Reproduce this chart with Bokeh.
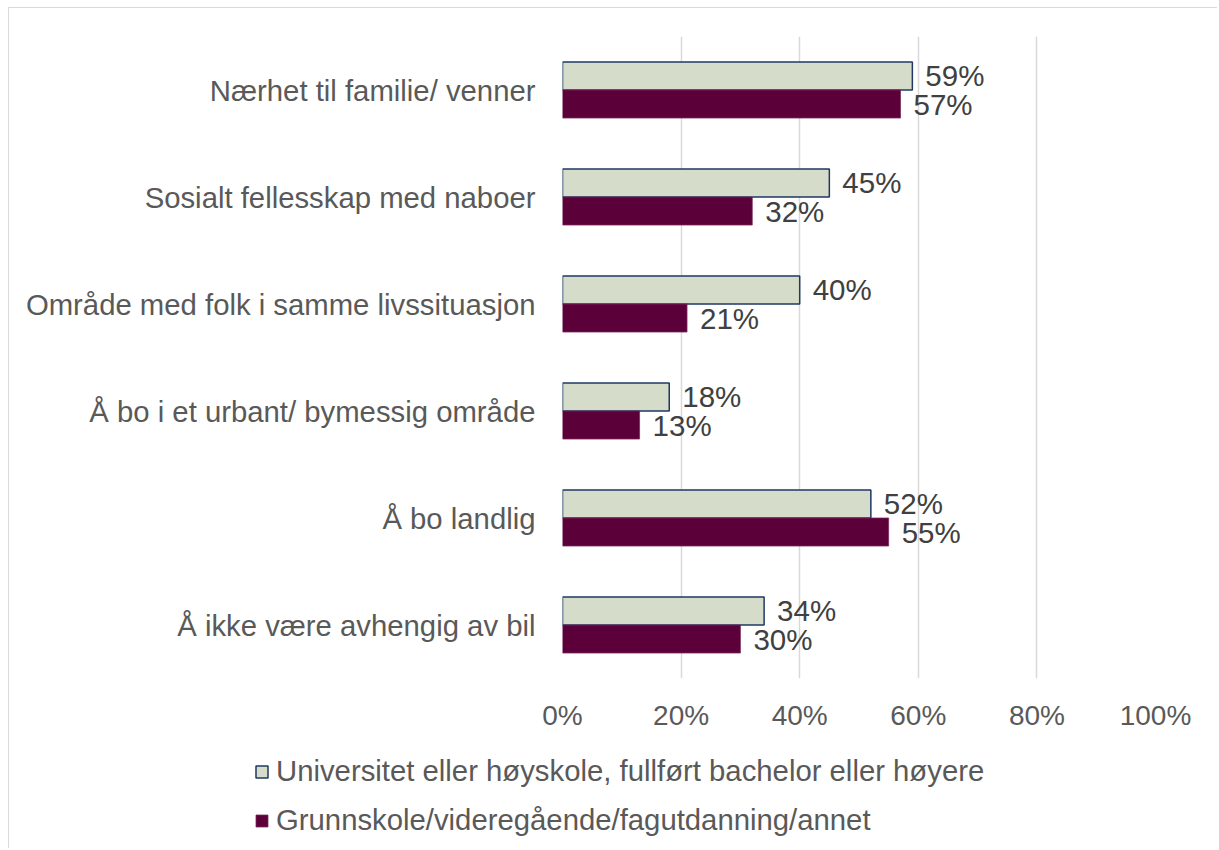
from bokeh.plotting import figure
from bokeh.layouts import column, row
from bokeh.models import (ColumnDataSource, FactorRange, Legend, LegendItem,
                          PrintfTickFormatter, FixedTicker, Range1d)
from bokeh.transform import dodge
from bokeh.core.properties import value
from bokeh.embed import file_html
from bokeh.resources import INLINE

categories = [
    "Nærhet til familie/ venner",
    "Sosialt fellesskap med naboer",
    "Område med folk i samme livssituasjon",
    "Å bo i et urbant/ bymessig område",
    "Å bo landlig",
    "Å ikke være avhengig av bil",
]
series_names = [
    "Universitet eller høyskole, fullført bachelor eller høyere",
    "Grunnskole/videregående/fagutdanning/annet",
]
uni_values = [59, 45, 40, 18, 52, 34]
grunn_values = [57, 32, 21, 13, 55, 30]
x_ticks = [0, 20, 40, 60, 80, 100]

FONT = "Liberation Sans"
TXT = "#595959"
LIGHT_FILL, LIGHT_LINE = "#d5dcc9", "#1f3864"
DARK_FILL, DARK_LINE = "#5c003a", "#7a2a5c"

src = ColumnDataSource(dict(
    cat=categories,
    uni=uni_values,
    grunn=grunn_values,
    uni_lab=[f"{v}%" for v in uni_values],
    grunn_lab=[f"{v}%" for v in grunn_values],
))

p = figure(
    width=1208, height=740,
    y_range=FactorRange(*reversed(categories)),
    x_range=(0, 100),
    output_backend="svg", toolbar_location=None,
)
p.min_border_left = 553
p.min_border_right = 62
p.min_border_top = 28
p.min_border_bottom = 70
p.outline_line_color = None

bh = 0.262
p.hbar(y=dodge("cat", bh / 2, range=p.y_range), right="uni", left=0, height=bh,
       source=src, fill_color=LIGHT_FILL, line_color=LIGHT_LINE, line_width=1.5)
p.hbar(y=dodge("cat", -bh / 2, range=p.y_range), right="grunn", left=0, height=bh,
       source=src, fill_color=DARK_FILL, line_color=DARK_LINE, line_width=0.75)

p.text(x="uni", y=dodge("cat", bh / 2, range=p.y_range), text="uni_lab", source=src,
       x_offset=13, text_baseline="middle", text_align="left",
       text_font=value(FONT), text_font_size="29.5px", text_color="#404040")
p.text(x="grunn", y=dodge("cat", -bh / 2, range=p.y_range), text="grunn_lab", source=src,
       x_offset=13, text_baseline="middle", text_align="left",
       text_font=value(FONT), text_font_size="29.5px", text_color="#404040")

p.xgrid.grid_line_color = "#d9d9d9"
p.xgrid.grid_line_width = 1.5
p.ygrid.grid_line_color = None

p.xaxis.ticker = FixedTicker(ticks=x_ticks)
p.xaxis.formatter = PrintfTickFormatter(format="%d%%")
for ax in (p.xaxis, p.yaxis):
    ax.axis_line_color = None
    ax.major_tick_line_color = None
    ax.minor_tick_line_color = None
    ax.major_label_text_font = FONT
    ax.major_label_text_color = TXT
p.xaxis.major_label_text_font_size = "28px"
p.yaxis.major_label_text_font_size = "29.3px"
p.xaxis.major_label_standoff = 15
p.yaxis.major_label_standoff = 21

# legend panel (separate figure so the legend is not clipped by the bar frame)
lg = figure(width=1208, height=100, x_range=Range1d(0, 1), y_range=Range1d(0, 1),
            x_axis_type=None, y_axis_type=None,
            output_backend="svg", toolbar_location=None)
lg.min_border = 0
lg.outline_line_color = None
lg.xgrid.grid_line_color = None
lg.ygrid.grid_line_color = None
l1 = lg.hbar(y=0, right="uni", left=0, height=0.1, source=src, visible=False,
             fill_color=LIGHT_FILL, line_color=LIGHT_LINE, line_width=1.5)
l2 = lg.hbar(y=0, right="grunn", left=0, height=0.1, source=src, visible=False,
             fill_color=DARK_FILL, line_color=DARK_LINE, line_width=0.75)
legend = Legend(
    items=[LegendItem(label=series_names[0], renderers=[l1]),
           LegendItem(label=series_names[1], renderers=[l2])],
    location=(245, 11), orientation="vertical",
    glyph_width=15, glyph_height=15, label_standoff=7,
    label_text_font=FONT, label_text_font_size="29.3px", label_text_color=TXT,
    spacing=15, padding=0, margin=0,
    border_line_color=None, background_fill_alpha=0,
)
lg.add_layout(legend, "center")

layout = column(p, row(lg), spacing=0,
                styles={"border-top": "1px solid #d9d9d9", "border-left": "1px solid #d9d9d9",
                        "margin-top": "7px", "margin-left": "8px"})

open("out.html", "w").write(file_html(layout, INLINE))
